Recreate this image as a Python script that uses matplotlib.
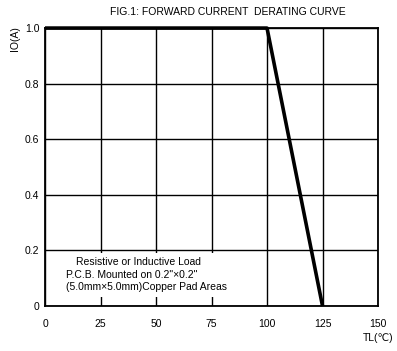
import matplotlib
matplotlib.use("Agg")
import matplotlib.pyplot as plt
from matplotlib.patches import Rectangle

plt.rcParams["font.family"] = ["Liberation Sans", "DejaVu Sans"]
plt.rcParams["font.size"] = 7.5

# derating curve: temperature (C) vs forward current (A)
TEMP = [0, 100, 125]
CURRENT = [1.0, 1.0, 0.0]
X_TICKS = [0, 25, 50, 75, 100, 125, 150]
Y_TICKS = [0, 0.2, 0.4, 0.6, 0.8, 1.0]
Y_LABELS = ["0", "0.2", "0.4", "0.6", "0.8", "1.0"]
NOTE = [
    "Resistive or Inductive Load",
    "P.C.B. Mounted on 0.2\"\u00d70.2\"",
    "(5.0mm\u00d75.0mm)Copper Pad Areas",
]

fig = plt.figure(figsize=(3.97, 3.51), dpi=100)
ax = fig.add_axes([0.1134, 0.128, 0.8388, 0.792])

ax.set_xlim(0, 150)
ax.set_ylim(0, 1.0)
ax.set_xticks(X_TICKS)
ax.set_yticks(Y_TICKS)
ax.set_yticklabels(Y_LABELS)
ax.tick_params(length=0, pad=9, labelsize=7.5)
ax.tick_params(axis="y", pad=4)
ax.grid(True, color="black", linewidth=1.0, zorder=1)
for sp in ax.spines.values():
    sp.set_linewidth(1.3)

# white box behind the note, hides grid lines
ax.add_patch(Rectangle((1, 0.032), 88, 0.16, facecolor="white",
                       edgecolor="none", zorder=2))
ax.text(14, 0.158, NOTE[0], ha="left", va="center", zorder=3)
ax.text(9.5, 0.112, NOTE[1], ha="left", va="center", zorder=3)
ax.text(9.5, 0.068, NOTE[2], ha="left", va="center", zorder=3)

ax.plot(TEMP, CURRENT, color="black", linewidth=2.6, zorder=4,
        solid_capstyle="butt", clip_on=False)

fig.text(0.573, 0.965, "FIG.1: FORWARD CURRENT  DERATING CURVE",
         ha="center", va="center")
fig.text(0.038, 0.89, "IO(A)", rotation=90, ha="center", va="center")
fig.text(0.952, 0.037, "TL(\u2103)", ha="center", va="center")

fig.savefig("out.png", dpi=100)
